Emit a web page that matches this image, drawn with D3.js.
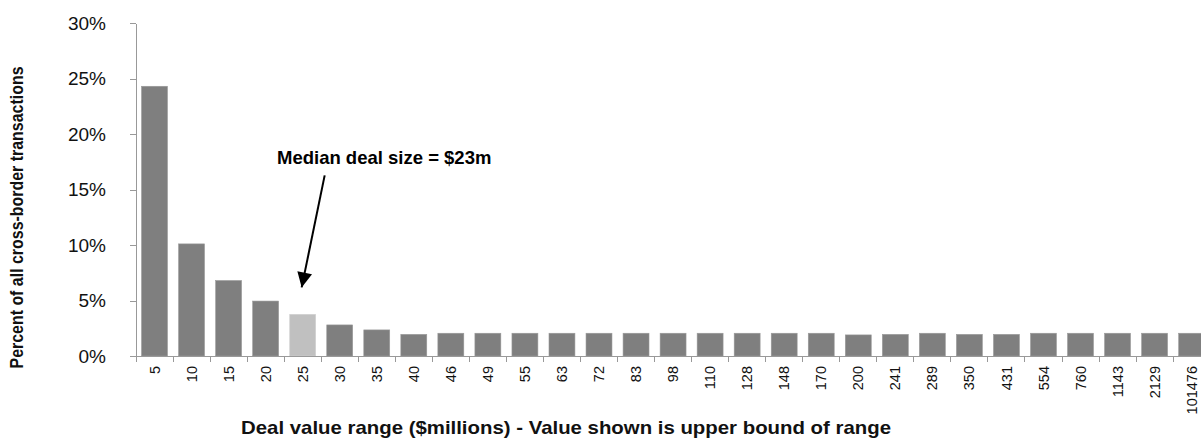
<!DOCTYPE html>
<html>
<head>
<meta charset="utf-8">
<script src="https://cdn.jsdelivr.net/npm/d3@7"></script>
<style>
  body { margin: 0; background: #fff; }
  svg { display: block; font-family: "Liberation Sans", Arial, sans-serif; }
  .axis path, .axis line { stroke: #999; shape-rendering: crispEdges; }
</style>
</head>
<body>
<div class="chart"></div>
<script>
// deal value range (upper bound, $m)
var categories = ['5', '10', '15', '20', '25', '30', '35', '40', '46', '49', '55', '63', '72', '83', '98',
  '110', '128', '148', '170', '200', '241', '289', '350', '431', '554', '760', '1143', '2129', '101476']

// share of all cross-border transactions
var shares = [.243, .101, .068, .0495, .0375, .028, .0235, .0195, .0205, .0205, .0205, .0205, .0205, .0205, .0205,
  .0205, .0205, .0205, .0205, .019, .0195, .0205, .0195, .0195, .0205, .0205, .0205, .0205, .0205]

var yTicks = [0, .05, .10, .15, .20, .25, .30]
var medianCategory = '25'
var medianLabel = 'Median deal size = $23m'

var data = categories.map((d, i) => ({key: d, value: shares[i]}))

var width = 1201, height = 438
var margin = {left: 136, top: 23}
var plotH = 333

var svg = d3.select('.chart').append('svg')
  .attr('width', width).attr('height', height)

var x = d3.scaleBand()
  .domain(categories)
  .range([margin.left, margin.left + 37.04*categories.length])
  .paddingInner(.3)
  .paddingOuter(.15)

var y = d3.scaleLinear()
  .domain([0, .3])
  .range([margin.top + plotH, margin.top])

// bars
svg.append('g')
  .selectAll('rect')
  .data(data)
  .join('rect')
  .attr('x', d => x(d.key))
  .attr('width', x.bandwidth())
  .attr('y', d => y(d.value))
  .attr('height', d => y(0) - y(d.value))
  .attr('fill', d => d.key == medianCategory ? '#c0c0c0' : '#7f7f7f')
  .attr('stroke', d => d.key == medianCategory ? '#cfcfcf' : '#999')
  .attr('stroke-width', .6)

// y axis
var yAxis = svg.append('g').attr('class', 'axis y')
  .attr('transform', `translate(${margin.left},0)`)
  .call(d3.axisLeft(y).tickValues(yTicks).tickFormat(d3.format('.0%')).tickSize(6).tickSizeOuter(0).tickPadding(24))
yAxis.selectAll('text').attr('font-size', 19).attr('fill', '#111')

// x axis: labels centred in bands, ticks at band edges
var xAxis = svg.append('g').attr('class', 'axis x')
  .attr('transform', `translate(0,${y(0)})`)
  .call(d3.axisBottom(x).tickSize(0).tickSizeOuter(0))
xAxis.select('.domain').attr('d', `M${margin.left},0H${x.range()[1]}`)
xAxis.selectAll('text')
  .attr('font-size', 14.5)
  .attr('fill', '#111')
  .attr('transform', 'rotate(-90)')
  .attr('text-anchor', 'end')
  .attr('x', -10)
  .attr('y', 0)
  .attr('dy', '.35em')

var edges = categories.map(d => x(d) - (x.step() - x.bandwidth())/2).concat([x.range()[1]])
xAxis.selectAll('line.edge')
  .data(edges)
  .join('line')
  .attr('class', 'edge')
  .attr('x1', d => d).attr('x2', d => d)
  .attr('y1', 0).attr('y2', 6)

// axis titles
svg.append('text')
  .text('Percent of all cross-border transactions')
  .attr('transform', `translate(23,${margin.top + plotH/2 + 28}) rotate(-90)`)
  .attr('text-anchor', 'middle')
  .attr('font-weight', 'bold')
  .attr('font-size', 19)
  .attr('textLength', 302)
  .attr('lengthAdjust', 'spacingAndGlyphs')
  .attr('fill', '#111')

svg.append('text')
  .text('Deal value range ($millions) - Value shown is upper bound of range')
  .attr('x', 566)
  .attr('y', 434)
  .attr('text-anchor', 'middle')
  .attr('font-weight', 'bold')
  .attr('font-size', 19)
  .attr('textLength', 650)
  .attr('lengthAdjust', 'spacingAndGlyphs')
  .attr('fill', '#111')

// median annotation
var mx = x(medianCategory) + x.bandwidth()/2
var my = y(shares[categories.indexOf(medianCategory)])

svg.append('defs').append('marker')
  .attr('id', 'arrow')
  .attr('viewBox', '0 0 10 10')
  .attr('refX', 10).attr('refY', 5)
  .attr('markerWidth', 17).attr('markerHeight', 15)
  .attr('markerUnits', 'userSpaceOnUse')
  .attr('orient', 'auto')
  .append('path').attr('d', 'M0,0L10,5L0,10Z').attr('fill', '#000')

svg.append('line')
  .attr('x1', mx + 22).attr('y1', my - 139)
  .attr('x2', mx - 1).attr('y2', my - 27)
  .attr('stroke', '#000')
  .attr('stroke-width', 2)
  .attr('marker-end', 'url(#arrow)')

svg.append('text')
  .text(medianLabel)
  .attr('x', 277)
  .attr('y', 164)
  .attr('font-weight', 'bold')
  .attr('font-size', 18.5)
  .attr('fill', '#000')
</script>
</body>
</html>
